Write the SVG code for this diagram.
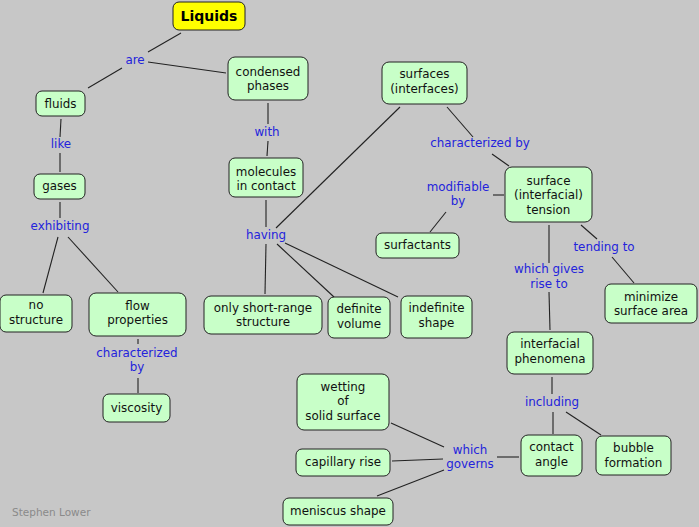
<svg xmlns="http://www.w3.org/2000/svg" width="699" height="527" viewBox="0 0 699 527">
<style>
.n rect{fill:#c8ffc8;stroke:#222;stroke-width:1}
.n text{font-family:"DejaVu Sans",Verdana,sans-serif;font-size:11.9px;fill:#111;text-anchor:middle}
.l text{font-family:"DejaVu Sans",Verdana,sans-serif;font-size:11.9px;fill:#2323dc;text-anchor:middle}
#connectors line{stroke:#222;stroke-width:1.1}
</style>
<rect x="0" y="0" width="699" height="527" fill="#c7c7c7"/>
<g id="connectors">
<line x1="181" y1="33" x2="148" y2="52"/>
<line x1="148" y1="62" x2="226" y2="73"/>
<line x1="122" y1="68" x2="88" y2="88"/>
<line x1="61" y1="119" x2="60" y2="137"/>
<line x1="60" y1="153" x2="60" y2="172"/>
<line x1="60" y1="202" x2="60" y2="218"/>
<line x1="58" y1="237" x2="43" y2="293"/>
<line x1="68" y1="237" x2="118" y2="292"/>
<line x1="268" y1="103" x2="268" y2="124"/>
<line x1="268" y1="141" x2="267" y2="156"/>
<line x1="266" y1="200" x2="266" y2="227"/>
<line x1="266" y1="244" x2="265" y2="294"/>
<line x1="277" y1="244" x2="334" y2="297"/>
<line x1="285" y1="243" x2="398" y2="297"/>
<line x1="276" y1="228" x2="400" y2="107"/>
<line x1="447" y1="107" x2="473" y2="137"/>
<line x1="492" y1="154" x2="509" y2="166"/>
<line x1="493" y1="195" x2="504" y2="195"/>
<line x1="446" y1="212" x2="430" y2="232"/>
<line x1="549" y1="225" x2="549" y2="263"/>
<line x1="549" y1="292" x2="550" y2="330"/>
<line x1="581" y1="225" x2="597" y2="239"/>
<line x1="612" y1="257" x2="634" y2="283"/>
<line x1="138" y1="339" x2="138" y2="344"/>
<line x1="138" y1="378" x2="138" y2="393"/>
<line x1="552" y1="377" x2="552" y2="394"/>
<line x1="553" y1="412" x2="553" y2="434"/>
<line x1="566" y1="412" x2="601" y2="435"/>
<line x1="497" y1="457" x2="519" y2="457"/>
<line x1="444" y1="447" x2="391" y2="423"/>
<line x1="443" y1="459" x2="392" y2="461"/>
<line x1="444" y1="470" x2="377" y2="496"/>
</g>
<g class="l">
<text x="135" y="64">are</text>
<text x="61" y="148">like</text>
<text x="60" y="230">exhibiting</text>
<text x="267" y="136">with</text>
<text x="266" y="239">having</text>
<text x="480" y="147">characterized by</text>
<text x="458" y="191">modifiable</text><text x="458" y="205">by</text>
<text x="604" y="251">tending to</text>
<text x="549" y="273">which gives</text><text x="549" y="288">rise to</text>
<text x="137" y="357">characterized</text><text x="137" y="371">by</text>
<text x="552" y="406">including</text>
<text x="470" y="454">which</text><text x="470" y="468">governs</text>
</g>
<g id="liquids" class="n"><rect x="173" y="2" width="72" height="28" rx="6" style="fill:#ffff00"/><text x="209" y="21" style="font-weight:bold;font-size:14px;fill:#000">Liquids</text></g>
<g id="condensed" class="n"><rect x="228" y="57" width="80" height="43" rx="7"/><text x="268" y="76">condensed</text><text x="268" y="90">phases</text></g>
<g id="fluids" class="n"><rect x="36" y="91" width="49" height="25" rx="6"/><text x="60.5" y="108">fluids</text></g>
<g id="gases" class="n"><rect x="34" y="174" width="51" height="25" rx="6"/><text x="59.5" y="190">gases</text></g>
<g id="molecules" class="n"><rect x="229" y="158" width="74" height="39" rx="6"/><text x="266" y="176">molecules</text><text x="266" y="190">in contact</text></g>
<g id="surfaces" class="n"><rect x="382" y="62" width="85" height="42" rx="7"/><text x="424.5" y="78">surfaces</text><text x="424.5" y="93">(interfaces)</text></g>
<g id="tension" class="n"><rect x="505" y="167" width="87" height="55" rx="7"/><text x="548.5" y="185">surface</text><text x="548.5" y="199">(interfacial)</text><text x="548.5" y="214">tension</text></g>
<g id="surfactants" class="n"><rect x="376" y="233" width="83" height="25" rx="6"/><text x="417.5" y="249">surfactants</text></g>
<g id="minimize" class="n"><rect x="605" y="284" width="92" height="39" rx="6"/><text x="651" y="301">minimize</text><text x="651" y="315">surface area</text></g>
<g id="indefinite" class="n"><rect x="401" y="296" width="71" height="42" rx="6"/><text x="436.5" y="312">indefinite</text><text x="436.5" y="327">shape</text></g>
<g id="definite" class="n"><rect x="328" y="297" width="62" height="41" rx="6"/><text x="359" y="313">definite</text><text x="359" y="328">volume</text></g>
<g id="shortrange" class="n"><rect x="204" y="296" width="118" height="38" rx="7"/><text x="263" y="312">only short-range</text><text x="263" y="326">structure</text></g>
<g id="nostructure" class="n"><rect x="0" y="295" width="72" height="37" rx="6"/><text x="36" y="309">no</text><text x="36" y="324">structure</text></g>
<g id="flow" class="n"><rect x="89" y="293" width="97" height="43" rx="7"/><text x="137.5" y="310">flow</text><text x="137.5" y="324">properties</text></g>
<g id="viscosity" class="n"><rect x="103" y="394" width="67" height="28" rx="6"/><text x="136.5" y="412">viscosity</text></g>
<g id="phenomena" class="n"><rect x="507" y="332" width="86" height="42" rx="7"/><text x="550" y="348">interfacial</text><text x="550" y="363">phenomena</text></g>
<g id="wetting" class="n"><rect x="297" y="374" width="92" height="56" rx="7"/><text x="343" y="391">wetting</text><text x="343" y="405">of</text><text x="343" y="420">solid surface</text></g>
<g id="capillary" class="n"><rect x="296" y="449" width="94" height="27" rx="6"/><text x="343" y="466">capillary rise</text></g>
<g id="meniscus" class="n"><rect x="283" y="498" width="110" height="27" rx="6"/><text x="338" y="515">meniscus shape</text></g>
<g id="contact" class="n"><rect x="521" y="435" width="61" height="41" rx="7"/><text x="551.5" y="451">contact</text><text x="551.5" y="466">angle</text></g>
<g id="bubble" class="n"><rect x="596" y="436" width="75" height="39" rx="6"/><text x="633.5" y="452">bubble</text><text x="633.5" y="467">formation</text></g>
<text x="12" y="516" style="font-family:'DejaVu Sans',Verdana,sans-serif;font-size:10.5px;fill:#8a8a8a">Stephen Lower</text>
</svg>
